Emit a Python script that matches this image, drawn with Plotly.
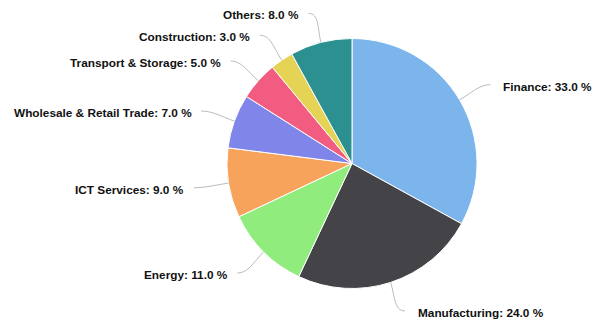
import math
import plotly.graph_objects as go

categories = ["Finance", "Manufacturing", "Energy", "ICT Services",
              "Wholesale & Retail Trade", "Transport & Storage",
              "Construction", "Others"]
values = [33.0, 24.0, 11.0, 9.0, 7.0, 5.0, 3.0, 8.0]
colors = ["#7cb5ec", "#434348", "#90ed7d", "#f7a35c",
          "#8085e9", "#f15c80", "#e4d354", "#2b908f"]

W, H = 595, 319
cx, cy, R = 352.0, 163.5, 125.0
DIST = 30.0

fig = go.Figure()
fig.add_trace(go.Pie(
    labels=categories, values=values, sort=False, direction="clockwise",
    rotation=0, textinfo="none", hoverinfo="label+percent",
    marker=dict(colors=colors, line=dict(color="#ffffff", width=1)),
    domain=dict(x=[(cx - R) / W, (cx + R) / W],
                y=[1 - (cy + R) / H, 1 - (cy - R) / H]),
    showlegend=False,
))

def px(x):
    return x / W

def py(y):
    return 1 - y / H

total = sum(values)
cum = 0.0
annotations = []
shapes = []
for name, v in zip(categories, values):
    mid = (cum + v / 2) / total * 2 * math.pi
    cum += v
    sx, sy = math.sin(mid), -math.cos(mid)
    ex, ey = cx + R * sx, cy + R * sy
    lx, ly = cx + (R + DIST) * sx, cy + (R + DIST) * sy
    s = 1 if sx >= 0 else -1
    c1x, c1y = cx + (R + 14) * sx, cy + (R + 14) * sy
    endx = lx + 5 * s
    path = (f"M {px(ex)},{py(ey)} C {px(c1x)},{py(c1y)} "
            f"{px(lx - 6 * s)},{py(ly)} {px(endx)},{py(ly)}")
    shapes.append(dict(type="path", path=path, xref="paper", yref="paper",
                       line=dict(color="#bbbbbb", width=1)))
    off = 16 if s > 0 else -12.5
    annotations.append(dict(
        x=px(lx + off), y=py(ly + 2), xref="paper", yref="paper",
        text=f"{name}: {v:.1f} %", showarrow=False,
        xanchor="left" if s > 0 else "right", yanchor="middle",
        font=dict(family="Liberation Sans", size=11.8, color="#111111",
                  weight="bold"),
    ))

fig.update_layout(
    width=W, height=H, margin=dict(l=0, r=0, t=0, b=0),
    paper_bgcolor="#ffffff", plot_bgcolor="#ffffff",
    shapes=shapes, annotations=annotations,
)

fig.write_html("out.html", config={"displayModeBar": False},
               post_script="document.body.style.margin='0';")
